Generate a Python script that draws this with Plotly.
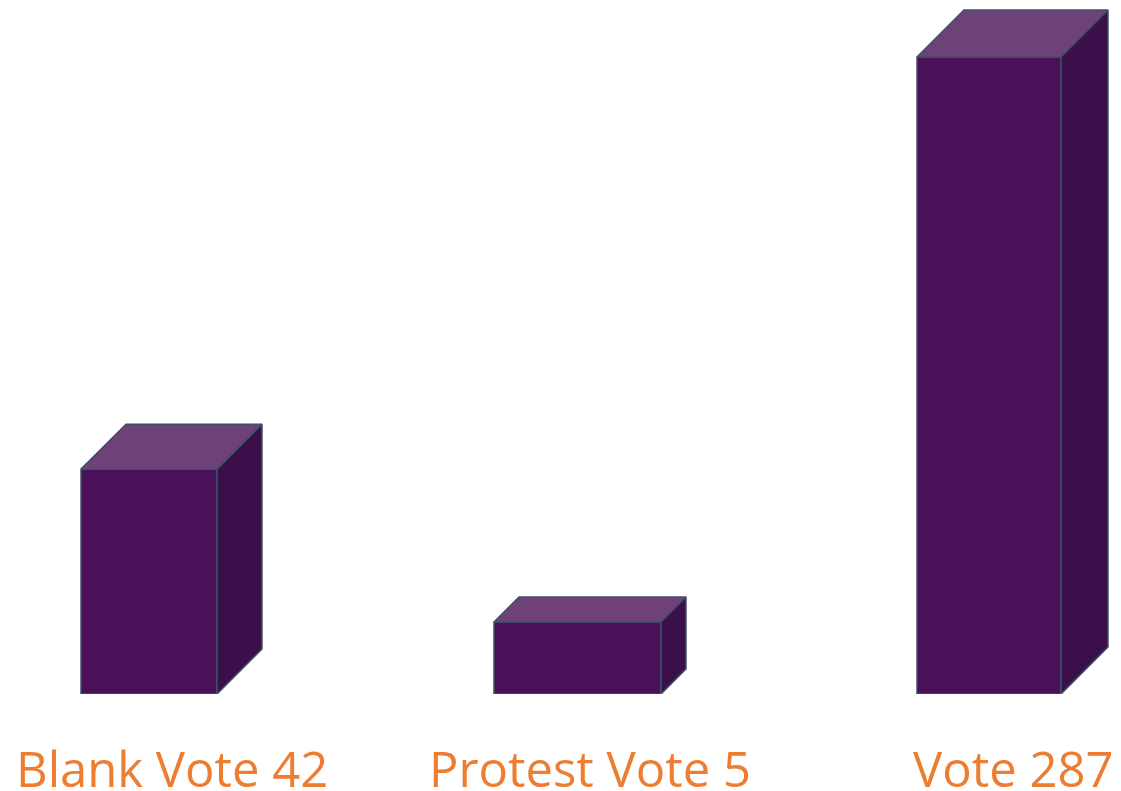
import plotly.graph_objects as go

# ---- data ----
categories = ["Blank Vote", "Protest Vote", "Vote"]
vote_counts = [42, 5, 287]
# drawn heights of the boxes (% of the tallest)
bar_heights = [35.3, 11.3, 100.0]

# ---- style / layout (not data) ----
PAGE_PAD = 8                  # default page body margin
W, H = 1121 - PAGE_PAD, 791 - PAGE_PAD
BASE_PX = 694 - PAGE_PAD      # baseline within the figure
M_B = H - BASE_PX
PLOT_H = BASE_PX
PX_PER_X = 420.0              # px per category step
X0_PX = 149.0 - PAGE_PAD      # px position of first category
Y_MAX = 637.0 / 100.0         # px per % unit
Y_MAX = PLOT_H / Y_MAX
PX_PER_Y = PLOT_H / Y_MAX
LABEL_Y_PX = 768 - PAGE_PAD

width_px = [136, 167, 144]
depth_px = [45, 25, 47]
shift_px = [0, 8.5, 0]

FRONT = "#4A1159"
SIDE = "#3B0F4A"
TOP = "#6E417B"
EDGE = "#3F5068"
LABEL = "#ED7D31"

xs = list(range(len(categories)))
widths = [w / PX_PER_X for w in width_px]
offsets = [-w / 2 + s / PX_PER_X for w, s in zip(widths, shift_px)]

fig = go.Figure()

fig.add_trace(go.Bar(
    x=xs, y=bar_heights, width=widths, offset=offsets,
    marker=dict(color=FRONT, line=dict(color=EDGE, width=1.5)),
    hoverinfo="skip", showlegend=False,
))

for i, (xc, h) in enumerate(zip(xs, bar_heights)):
    left = xc + offsets[i]
    right = left + widths[i]
    dx = depth_px[i] / PX_PER_X
    dy = depth_px[i] / PX_PER_Y
    # top face
    fig.add_trace(go.Scatter(
        x=[left, right, right + dx, left + dx, left],
        y=[h, h, h + dy, h + dy, h],
        mode="lines", fill="toself", fillcolor=TOP,
        line=dict(color=EDGE, width=1.5), hoverinfo="skip", showlegend=False,
    ))
    # side face
    fig.add_trace(go.Scatter(
        x=[right, right + dx, right + dx, right, right],
        y=[0, dy, h + dy, h, 0],
        mode="lines", fill="toself", fillcolor=SIDE,
        line=dict(color=EDGE, width=1.5), hoverinfo="skip", showlegend=False,
    ))
    fig.add_annotation(
        x=(left + right + dx) / 2, y=-(LABEL_Y_PX - PLOT_H) / PLOT_H,
        xref="x", yref="paper", text=f"{categories[i]} {vote_counts[i]}",
        showarrow=False, xanchor="center", yanchor="middle",
        font=dict(family="Century Gothic, Open Sans, sans-serif", size=49, color=LABEL),
    )

fig.update_layout(
    width=W, height=H,
    margin=dict(l=0, r=0, t=0, b=M_B),
    paper_bgcolor="white", plot_bgcolor="white",
    xaxis=dict(range=[-X0_PX / PX_PER_X, -X0_PX / PX_PER_X + W / PX_PER_X],
               visible=False, fixedrange=True),
    yaxis=dict(range=[0, Y_MAX], visible=False, fixedrange=True),
)

fig.write_html("out.html")
